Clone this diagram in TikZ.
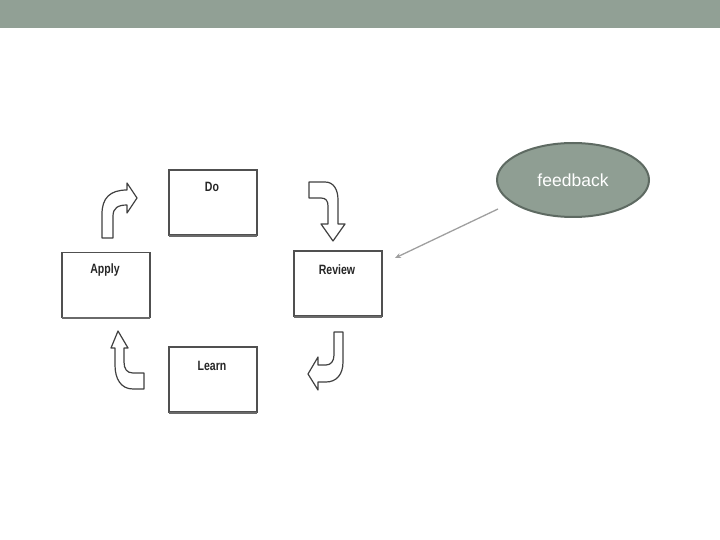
\documentclass[tikz,border=0pt]{standalone}
\usepackage{fontspec}
\setmainfont{Liberation Sans}
\newfontfamily\boxfont[FakeStretch=0.78]{Liberation Sans}
\usetikzlibrary{shapes.geometric,arrows.meta}
\definecolor{band}{HTML}{91A095}
\definecolor{fbfill}{HTML}{8F9E93}
\definecolor{fbline}{HTML}{5E6A62}
\definecolor{boxline}{HTML}{505050}
\definecolor{shadowline}{HTML}{6A6A6A}
\tikzset{
  stagebox/.style={draw=boxline, line width=1.3pt, fill=white, minimum width=88pt, minimum height=65pt, inner sep=0pt},
  stagelabel/.style={font=\boxfont\bfseries\fontsize{13.5}{15}\selectfont, text=black!85},
  blockarrow/.style={draw=black!75, line width=1.2pt, fill=white, line join=round},
  fbarrow/.style={draw=gray!75, line width=1.3pt, -{Stealth[length=6pt,width=5pt]}},
}
\begin{document}
\begin{tikzpicture}[x=1pt,y=-1pt]
\useasboundingbox (0,0) rectangle (720,540);
\fill[band] (0,0) rectangle (720,28);

% boxes
\node[stagebox] (do) at (213,202.5) {};
\node[stagebox] (apply) at (106,285) {};
\node[stagebox] (review) at (338,283.5) {};
\node[stagebox] (learn) at (213,379.5) {};
\foreach \b in {do,apply,review,learn}{
  \draw[shadowline, line width=2.2pt] ([xshift=0.6pt]\b.south west) -- ([xshift=-0.6pt]\b.south east);
}
\node[stagelabel] (dotext) at (212,187) {Do};
\node[stagelabel] (applytext) at (105,270) {Apply};
\node[stagelabel] (reviewtext) at (337,270) {Review};
\node[stagelabel] (learntext) at (212,366) {Learn};

% block arrows
% Apply -> Do (up then right)
\draw[blockarrow] (102,238) -- (102,214) .. controls (102,198) and (110,190) .. (127,190)
  -- (127,183) -- (137,198) -- (127,213) -- (127,205)
  .. controls (118,205) and (113,208) .. (113,216) -- (113,238) -- cycle;
% Do -> Review (right then down)
\draw[blockarrow] (309,182) -- (325,182) .. controls (334,182) and (338,190) .. (338,200)
  -- (338,224) -- (345,224) -- (333,241) -- (321,224) -- (328,224) -- (328,206)
  .. controls (328,201) and (326,198) .. (321,198) -- (309,198) -- cycle;
% Review -> Learn (down then left)
\draw[blockarrow] (334,332) -- (343,332) -- (343,362) .. controls (343,375) and (336,382) .. (326,382)
  -- (318,382) -- (318,390) -- (308,374) -- (318,357) -- (318,365) -- (326,365)
  .. controls (331,365) and (334,361) .. (334,355) -- cycle;
% Learn -> Apply (up)
\draw[blockarrow] (111,348) -- (118,331) -- (128,348) -- (124,348) -- (124,362)
  .. controls (124,369) and (127,373) .. (133,373) -- (144,373) -- (144,389) -- (133,389)
  .. controls (121,389) and (115,379) .. (115,365) -- (115,348) -- cycle;

% feedback
\node[ellipse, draw=fbline, line width=2pt, fill=fbfill, minimum width=152pt, minimum height=74pt, inner sep=0pt,
  text=white, font=\fontsize{17.5}{20}\selectfont] (fb) at (573,180) {feedback};
\coordinate (fbstart) at (498,209);
\coordinate (fbend) at (395,258);
\draw[fbarrow] (fbstart) -- (fbend);
\end{tikzpicture}
\end{document}
